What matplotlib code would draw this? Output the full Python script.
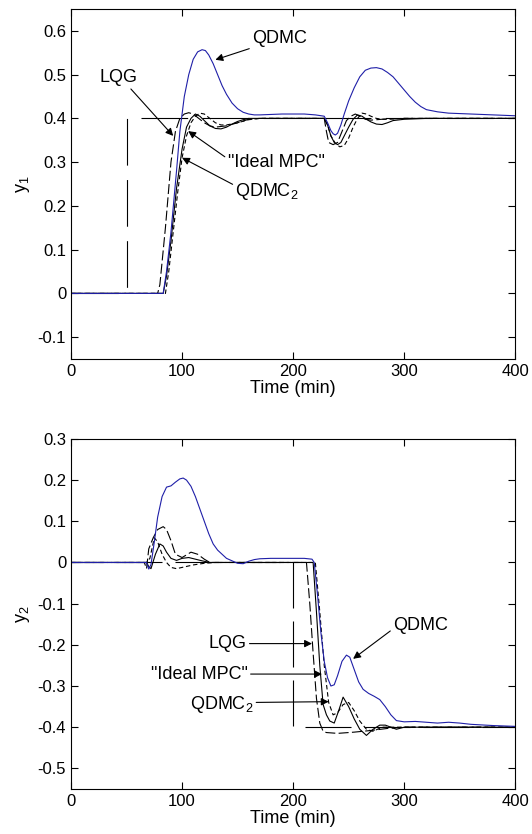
import matplotlib
matplotlib.use('Agg')
import matplotlib.pyplot as plt
from matplotlib.ticker import FuncFormatter

plt.rcParams['font.family'] = ['Liberation Sans', 'DejaVu Sans']
plt.rcParams['axes.unicode_minus'] = False
plt.rcParams['font.size'] = 13

# ---------- top panel (y1) ----------
sp1_t = [0, 50, 50, 400]
sp1_y = [0, 0, 0.4, 0.4]

qdmc1_t = [0, 83, 86, 90, 95, 98, 102, 106, 110, 114, 118, 121, 124, 128, 132, 136, 140, 145, 150, 155,
           160, 165, 170, 180, 190, 200, 210, 220, 228, 231, 234, 236, 238, 240, 243, 246, 250, 255, 260,
           265, 270, 275, 280, 285, 290, 295, 300, 305, 310, 315, 320, 330, 340, 360, 380, 400]
qdmc1_y = [0, 0, 0.05, 0.14, 0.28, 0.37, 0.45, 0.50, 0.535, 0.552, 0.557, 0.555, 0.545, 0.525, 0.50, 0.475,
           0.455, 0.435, 0.422, 0.414, 0.41, 0.408, 0.408, 0.409, 0.41, 0.41, 0.41, 0.408, 0.405, 0.39, 0.372,
           0.365, 0.362, 0.366, 0.385, 0.41, 0.44, 0.47, 0.495, 0.51, 0.515, 0.516, 0.513, 0.505, 0.495,
           0.48, 0.465, 0.45, 0.437, 0.427, 0.42, 0.415, 0.412, 0.41, 0.408, 0.406]

ideal1_t = [0, 83, 86, 90, 95, 100, 104, 108, 112, 116, 120, 125, 130, 135, 140, 145, 150, 155, 160, 170,
            200, 228, 231, 234, 237, 240, 243, 246, 250, 254, 258, 262, 266, 270, 275, 280, 285, 290, 300,
            320, 400]
ideal1_y = [0, 0, 0.04, 0.12, 0.24, 0.33, 0.38, 0.40, 0.41, 0.405, 0.395, 0.383, 0.377, 0.376, 0.38, 0.387,
            0.393, 0.397, 0.4, 0.4, 0.4, 0.4, 0.385, 0.36, 0.345, 0.34, 0.345, 0.36, 0.38, 0.398, 0.408,
            0.405, 0.398, 0.392, 0.387, 0.386, 0.39, 0.395, 0.398, 0.4, 0.4]

lqg1_t = [0, 78, 80, 85, 90, 94, 98, 102, 106, 110, 115, 120, 125, 130, 140, 150, 160, 170, 228, 230, 232,
          236, 240, 244, 248, 252, 256, 260, 265, 270, 280, 300, 400]
lqg1_y = [0, 0, 0.02, 0.15, 0.30, 0.37, 0.40, 0.41, 0.413, 0.41, 0.40, 0.39, 0.383, 0.38, 0.383, 0.39,
          0.398, 0.4, 0.4, 0.37, 0.345, 0.34, 0.345, 0.37, 0.395, 0.405, 0.41, 0.405, 0.398, 0.396, 0.398,
          0.4, 0.4]

qdmc21_t = [0, 85, 88, 92, 96, 100, 104, 108, 112, 116, 120, 125, 130, 135, 140, 150, 160, 170, 228, 231,
            234, 238, 242, 246, 250, 254, 258, 262, 266, 270, 275, 280, 300, 400]
qdmc21_y = [0, 0, 0.05, 0.14, 0.23, 0.31, 0.36, 0.39, 0.405, 0.412, 0.41, 0.40, 0.39, 0.385, 0.385, 0.39,
            0.397, 0.4, 0.4, 0.385, 0.36, 0.343, 0.335, 0.338, 0.355, 0.38, 0.40, 0.412, 0.41, 0.405, 0.4,
            0.398, 0.4, 0.4]

# ---------- bottom panel (y2) ----------
sp2_t = [0, 200, 200, 400]
sp2_y = [0, 0, -0.4, -0.4]

qdmc2_t = [0, 68, 70, 72, 75, 78, 82, 86, 90, 94, 98, 101, 104, 108, 112, 116, 120, 124, 128, 132, 136,
           140, 145, 150, 155, 160, 165, 170, 180, 210, 217, 219, 222, 225, 228, 231, 234, 237, 240, 244,
           248, 251, 255, 259, 263, 268, 273, 278, 283, 288, 293, 300, 310, 320, 330, 340, 350, 360, 380,
           400]
qdmc2_y = [0, 0, -0.016, -0.005, 0.05, 0.11, 0.16, 0.183, 0.186, 0.195, 0.203, 0.205, 0.2, 0.185, 0.16,
           0.13, 0.1, 0.07, 0.045, 0.03, 0.02, 0.01, 0.004, -0.002, -0.003, 0.003, 0.007, 0.009, 0.01,
           0.01, 0.008, 0.0, -0.08, -0.17, -0.24, -0.28, -0.30, -0.297, -0.275, -0.24, -0.225, -0.23,
           -0.26, -0.29, -0.308, -0.318, -0.325, -0.333, -0.35, -0.37, -0.384, -0.387, -0.386, -0.388,
           -0.39, -0.388, -0.39, -0.393, -0.396, -0.398]

ideal2_t = [0, 68, 70, 72, 76, 80, 83, 86, 90, 95, 100, 106, 112, 118, 125, 218, 221, 224, 227, 230, 233,
            237, 241, 245, 250, 255, 260, 266, 272, 278, 283, 288, 293, 300, 400]
ideal2_y = [0, 0, -0.01, -0.015, 0.02, 0.045, 0.04, 0.025, 0.01, 0.005, 0.01, 0.012, 0.008, 0.004, 0,
            0, -0.12, -0.25, -0.345, -0.37, -0.385, -0.39, -0.36, -0.327, -0.35, -0.38, -0.405, -0.42,
            -0.405, -0.395, -0.395, -0.4, -0.405, -0.4, -0.4]

lqg2_t = [0, 66, 68, 70, 74, 78, 83, 86, 90, 94, 100, 108, 114, 120, 125, 212, 215, 218, 221, 224, 227,
          230, 240, 255, 270, 285, 300, 400]
lqg2_y = [0, 0, -0.015, 0.033, 0.06, 0.08, 0.087, 0.08, 0.053, 0.02, 0.012, 0.025, 0.02, 0.008, 0,
          0, -0.1, -0.22, -0.33, -0.39, -0.41, -0.413, -0.415, -0.412, -0.408, -0.403, -0.4, -0.4]

qdmc22_t = [0, 68, 71, 75, 78, 82, 86, 90, 95, 100, 110, 120, 130, 220, 224, 228, 232, 236, 240, 245, 250,
            255, 260, 266, 272, 280, 290, 400]
qdmc22_y = [0, 0, 0.01, 0.06, 0.05, 0.02, 0.0, -0.012, -0.015, -0.012, -0.006, -0.002, 0, 0, -0.12,
            -0.25, -0.34, -0.37, -0.365, -0.345, -0.34, -0.36, -0.385, -0.405, -0.41, -0.4, -0.4, -0.4]

fig = plt.figure(figsize=(5.32, 8.34), dpi=100)
ax1 = fig.add_axes([0.1335, 0.5695, 0.835, 0.4197])
ax2 = fig.add_axes([0.1335, 0.054, 0.835, 0.4197])

lw = 0.8
sp1_style = (54.5, (42, 13))
sp2_style = (12.6, (41.4, 11.7))
lqg_style = (0, (9, 3))
q2_style = (0, (4, 2.5))
blue = '#1f1fa8'
arrow = dict(arrowstyle='-|>', color='k', lw=0.8, mutation_scale=11, shrinkA=0, shrinkB=0)

ax1.plot(sp1_t, sp1_y, color='k', lw=lw, linestyle=sp1_style)
ax1.plot(lqg1_t, lqg1_y, color='k', lw=lw, linestyle=lqg_style)
ax1.plot(qdmc21_t, qdmc21_y, color='k', lw=lw, linestyle=q2_style)
ax1.plot(ideal1_t, ideal1_y, color='k', lw=lw)
ax1.plot(qdmc1_t, qdmc1_y, color=blue, lw=lw)
ax1.set_xlim(0, 400)
ax1.set_ylim(-0.15, 0.65)
ax1.set_yticks([-0.1, 0, 0.1, 0.2, 0.3, 0.4, 0.5, 0.6])
ax1.set_ylabel('$\\mathregular{y_1}$')
ax1.set_xlabel('Time (min)', labelpad=1)
ax1.annotate('QDMC', xy=(130, 0.534), xytext=(163, 0.582), va='center', ha='left', arrowprops=arrow)
ax1.annotate('LQG', xy=(92, 0.36), xytext=(26, 0.493), va='center', ha='left',
             arrowprops=dict(arrow, relpos=(0.75, 0.0)))
ax1.annotate('"Ideal MPC"', xy=(105.5, 0.371), xytext=(141, 0.30), va='center', ha='left',
             arrowprops=dict(arrow, relpos=(0.0, 0.7)))
ax1.annotate('QDMC$\\mathregular{_2}$', xy=(100, 0.31), xytext=(148, 0.234), va='center', ha='left',
             arrowprops=dict(arrow, relpos=(0.0, 0.75)))

ax2.plot(sp2_t, sp2_y, color='k', lw=lw, linestyle=sp2_style)
ax2.plot(lqg2_t, lqg2_y, color='k', lw=lw, linestyle=lqg_style)
ax2.plot(qdmc22_t, qdmc22_y, color='k', lw=lw, linestyle=q2_style)
ax2.plot(ideal2_t, ideal2_y, color='k', lw=lw)
ax2.plot(qdmc2_t, qdmc2_y, color=blue, lw=lw)
ax2.set_xlim(0, 400)
ax2.set_ylim(-0.55, 0.3)
ax2.set_yticks([-0.5, -0.4, -0.3, -0.2, -0.1, 0, 0.1, 0.2, 0.3])
ax2.set_ylabel('$\\mathregular{y_2}$')
ax2.set_xlabel('Time (min)', labelpad=1)
ax2.annotate('QDMC', xy=(254, -0.234), xytext=(290, -0.153), va='center', ha='left',
             arrowprops=dict(arrow, relpos=(0.0, 0.3)))
ax2.annotate('LQG', xy=(217, -0.197), xytext=(124, -0.197), va='center', ha='left',
             arrowprops=dict(arrow, relpos=(1.0, 0.5)))
ax2.annotate('"Ideal MPC"', xy=(226, -0.271), xytext=(72, -0.271), va='center', ha='left',
             arrowprops=dict(arrow, relpos=(1.0, 0.5)))
ax2.annotate('QDMC$\\mathregular{_2}$', xy=(232, -0.338), xytext=(107, -0.345), va='center', ha='left',
             arrowprops=dict(arrow, relpos=(1.0, 0.6)))

fmt = FuncFormatter(lambda v, p: '%g' % round(v, 3))
for ax in (ax1, ax2):
    ax.set_xticks([0, 100, 200, 300, 400])
    ax.yaxis.set_major_formatter(fmt)
    ax.tick_params(direction='in', top=True, right=True, length=5, width=0.8, labelsize=12)
    for s in ax.spines.values():
        s.set_linewidth(0.8)

fig.savefig('out.png', dpi=100)
